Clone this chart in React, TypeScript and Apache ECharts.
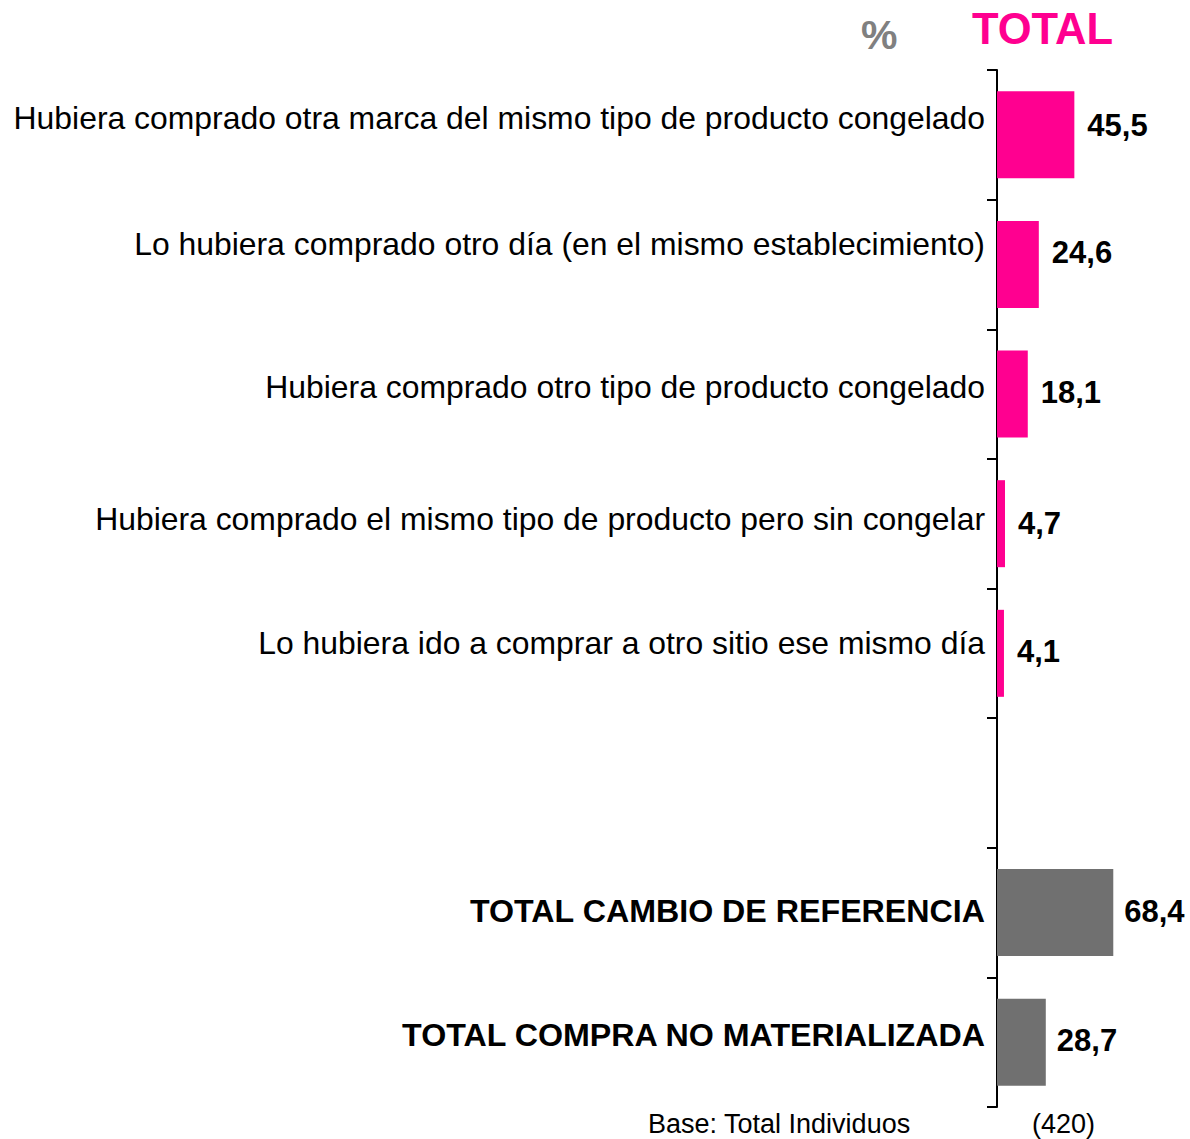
import React, { useEffect, useRef } from "react";
import * as echarts from "echarts";

const categories = [
  "Hubiera comprado otra marca del mismo tipo de producto congelado",
  "Lo hubiera comprado otro día (en el mismo establecimiento)",
  "Hubiera comprado otro tipo de producto congelado",
  "Hubiera comprado el mismo tipo de producto pero sin congelar",
  "Lo hubiera ido a comprar a otro sitio ese mismo día",
  "",
  "TOTAL CAMBIO DE REFERENCIA",
  "TOTAL COMPRA NO MATERIALIZADA",
];
const values: (number | null)[] = [45.5, 24.6, 18.1, 4.7, 4.1, null, 68.4, 28.7];
const groups = ["detail", "detail", "detail", "detail", "detail", "none", "total", "total"];
const headerUnit = "%";
const headerTotal = "TOTAL";
const baseLabel = "Base: Total Individuos";
const baseValue = "(420)";

const PINK = "#FF0090";
const GRAY = "#707070";
const FONT = "Liberation Sans, Arial, sans-serif";
// per-row vertical lift of the category labels and value labels (px)
const labelLift = [17, 20, 7, 5, 10, 0, 2, 7];
const valueLift = [9, 12, 2, 0, 2, 0, 1, 2];

export default function App() {
  const ref = useRef<HTMLDivElement>(null);
  useEffect(() => {
    document.body.style.margin = "0";
    const chart = echarts.init(ref.current!, null, { renderer: "svg" });
    const rich: Record<string, any> = {};
    labelLift.forEach((l, i) => {
      const bold = groups[i] === "total";
      rich["r" + i] = {
        fontFamily: FONT,
        fontSize: bold ? 32.2 : 31.9,
        fontWeight: bold ? "bold" : "normal",
        color: "#000",
        padding: [0, 0, l * 2, 0],
      };
    });
    const data = values.map((v, i) => ({
      value: v === null ? "-" : v,
      itemStyle: { color: groups[i] === "total" ? GRAY : PINK },
      label: { offset: [groups[i] === "total" ? -2 : 0, -valueLift[i]] },
    }));
    chart.setOption({
      animation: false,
      backgroundColor: "#fff",
      grid: { left: 997, right: 23, top: 70, bottom: 32, containLabel: false },
      xAxis: {
        type: "value",
        min: 0,
        max: 100,
        show: false,
      },
      yAxis: {
        type: "category",
        inverse: true,
        data: categories,
        axisLine: { show: true, lineStyle: { color: "#000", width: 2 } },
        axisTick: { show: true, length: 10, lineStyle: { color: "#000", width: 2 } },
        axisLabel: {
          margin: 12,
          formatter: (val: string, idx: number) => (val ? `{r${idx}|${val}}` : ""),
          rich,
        },
        splitLine: { show: false },
      },
      series: [
        {
          type: "bar",
          data,
          barWidth: 87,
          label: {
            show: true,
            position: "right",
            distance: 13,
            fontFamily: FONT,
            fontSize: 31,
            fontWeight: "bold",
            color: "#000",
            formatter: (p: any) => String(p.value).replace(".", ","),
          },
        },
      ],
      graphic: [
        {
          type: "text",
          left: 861,
          top: 14,
          style: {
            text: headerUnit,
            fontFamily: FONT,
            fontSize: 41,
            fontWeight: "bold",
            fill: "#808080",
          },
        },
        {
          type: "text",
          left: 972,
          top: 7,
          style: {
            text: headerTotal,
            fontFamily: FONT,
            fontSize: 43.5,
            fontWeight: "bold",
            fill: PINK,
          },
        },
        {
          type: "text",
          left: 648,
          top: 1110,
          style: {
            text: baseLabel,
            fontFamily: FONT,
            fontSize: 27,
            fill: "#000",
          },
        },
        {
          type: "text",
          left: 1032,
          top: 1110,
          style: {
            text: baseValue,
            fontFamily: FONT,
            fontSize: 27,
            fill: "#000",
          },
        },
      ],
    });
    return () => chart.dispose();
  }, []);
  return <div ref={ref} style={{ width: 1190, height: 1139 }} />;
}
